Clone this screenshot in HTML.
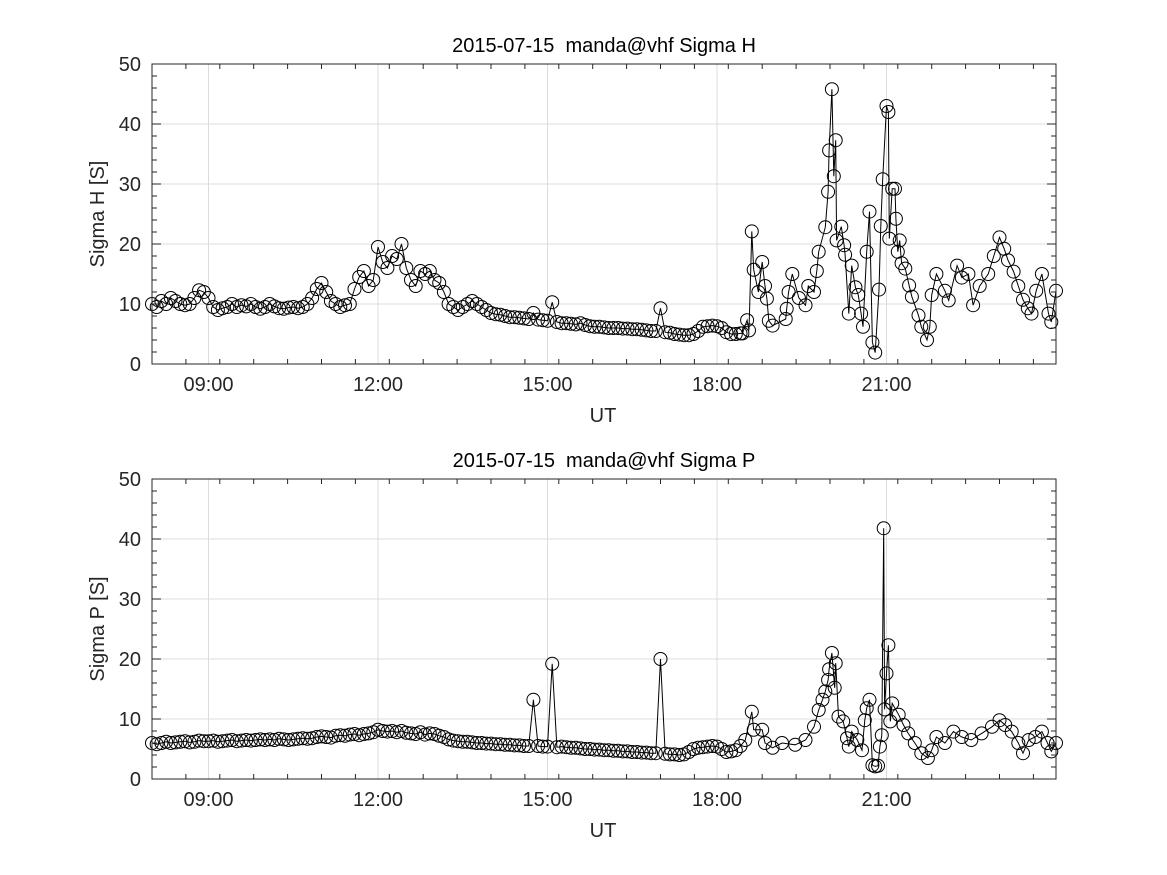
<!DOCTYPE html>
<html><head><meta charset="utf-8"><style>
html,body{margin:0;padding:0;background:#fff;}
svg{display:block;font-family:"Liberation Sans",sans-serif;}
text{white-space:pre;}
</style></head><body>
<svg id="chart" width="1167" height="875" viewBox="0 0 1167 875" xmlns="http://www.w3.org/2000/svg"></svg>
<script>
// ---- data ----
const xTickLabels = ["09:00","12:00","15:00","18:00","21:00"];
const yTickLabels = [0,10,20,30,40,50];
// Sigma H: values on a 5-minute grid from 08:00 to 18:25
const hCalmStart = "08:00";
const hCalmValues = [
10,9.5,10.5,10,11,10.5,10,9.8,10,11,12.3,12,
11,9.5,9,9.3,9.5,10,9.5,9.8,9.6,10,9.5,9.2,
9.5,10,9.6,9.3,9.2,9.4,9.5,9.3,9.5,10,11,12.5,
13.5,12,10.5,10,9.5,9.8,10,12.5,14.5,15.5,13,14,
19.5,17,16,18,17.5,20,16,14,13,15.5,15,15.5,
14,13.5,12,10,9.5,9,9.5,10,10.5,10,9.5,9,
8.5,8.3,8.2,8,7.8,7.8,7.7,7.6,7.5,8.5,7.4,7.3,
7.2,10.3,7,6.8,6.8,6.7,6.6,6.8,6.5,6.3,6.2,6.2,
6.1,6,6,6,5.9,5.9,5.8,5.8,5.7,5.6,5.5,5.5,
9.3,5.3,5.2,5,4.9,4.8,4.8,5,5.5,6.2,6.3,6.4,
6.3,6,5.3,5,5,5.1];
const hStormTimes = ["18:27","18:32","18:34","18:37","18:39","18:44","18:48","18:51","18:53","18:55","18:59","19:13","19:14","19:16","19:20","19:27","19:34","19:37","19:43","19:46","19:48","19:55","19:58","19:59","20:02","20:04","20:06","20:07","20:12","20:15","20:16","20:20","20:23","20:27","20:30","20:33","20:35","20:39","20:42","20:45","20:48","20:52","20:54","20:56","21:00","21:02","21:03","21:06","21:09","21:10","21:12","21:14","21:16","21:20","21:24","21:27","21:34","21:37","21:43","21:46","21:48","21:53","22:02","22:06","22:15","22:20","22:27","22:32","22:39","22:48","22:54","23:00","23:05","23:09","23:15","23:20","23:25","23:30","23:34","23:39","23:45","23:52","23:55","24:00"];
const hStormValues = [5.1,7.3,5.6,22.1,15.7,12,17,13,10.9,7.2,6.4,7.5,9.2,12,15,11,9.8,13,12,15.5,18.7,22.8,28.7,35.6,45.8,31.3,37.3,20.6,22.9,19.8,18.2,8.4,16.4,12.8,11.5,8.4,6.2,18.7,25.4,3.6,1.9,12.4,23,30.8,43,42,20.9,29.2,29.2,24.2,18.7,20.6,16.8,15.9,13.1,11.2,8.1,6.2,4,6.2,11.5,15,12.2,10.6,16.4,14.4,15,9.8,13,15,18,21.1,19.2,17.3,15.4,13,10.7,9.3,8.4,12.2,15,8.4,7,12.2];
// Sigma P
const pCalmStart = "08:00";
const pCalmValues = [
6,5.8,6,6.2,6,6.1,6.2,6.3,6.1,6.2,6.4,6.3,
6.3,6.4,6.2,6.3,6.4,6.5,6.3,6.4,6.5,6.4,6.5,6.6,
6.5,6.6,6.5,6.7,6.6,6.5,6.6,6.7,6.8,6.7,6.8,7,
7.1,7,6.9,7.2,7.3,7.2,7.4,7.5,7.3,7.5,7.6,7.8,
8.2,8,7.9,8,7.8,8,7.7,7.6,7.5,7.8,7.4,7.6,
7.5,7.2,7,6.6,6.4,6.3,6.2,6.2,6.1,6,6,5.9,
5.9,5.8,5.8,5.7,5.7,5.6,5.6,5.5,5.5,13.2,5.5,5.4,
5.4,19.2,5.3,5.4,5.3,5.2,5.2,5.1,5,5,4.9,4.9,
4.8,4.8,4.7,4.7,4.6,4.6,4.5,4.5,4.4,4.4,4.3,4.3,
20,4.2,4.1,4.1,4,4.1,4.5,5,5.2,5.3,5.4,5.5,
5.4,5,4.5,4.6,4.8,5.5];
const pStormTimes = ["18:30","18:37","18:39","18:48","18:51","18:59","19:09","19:23","19:34","19:43","19:48","19:52","19:55","19:58","19:59","20:02","20:05","20:06","20:09","20:14","20:18","20:20","20:23","20:29","20:34","20:37","20:39","20:42","20:45","20:48","20:51","20:53","20:55","20:57","20:58","21:00","21:02","21:04","21:06","21:13","21:18","21:23","21:30","21:37","21:44","21:48","21:53","22:02","22:11","22:20","22:30","22:41","22:52","23:00","23:06","23:13","23:20","23:25","23:31","23:38","23:45","23:51","23:55","24:00"];
const pStormValues = [6.5,11.2,8.2,8.2,6,5.2,6,5.7,6.5,8.7,11.5,13.2,14.6,16.5,18.3,21,15.2,19.3,10.4,9.6,6.8,5.4,7.9,6.5,4.8,9.8,11.8,13.2,2.3,2.1,2.2,5.4,7.3,41.8,11.6,17.6,22.3,9.6,12.6,10.7,9,7.6,6,4.3,3.5,4.8,7,6,7.9,7,6.5,7.6,8.7,9.8,9,7.9,6,4.3,6.5,7,7.9,6,4.6,6];

// ---- drawing ----
const NS = "http://www.w3.org/2000/svg";
const svg = document.getElementById("chart");
const X0 = 152, X1 = 1056, T0 = 8, T1 = 24;
function toH(s){const p=s.split(":");return +p[0]+(+p[1])/60;}
function xs(h){return X0+(h-T0)/(T1-T0)*(X1-X0);}
function mk(tag,attrs,parent){const e=document.createElementNS(NS,tag);for(const k in attrs)e.setAttribute(k,attrs[k]);(parent||svg).appendChild(e);return e;}

function panel(key, yTop, yBot, title, ylabel, calmStart, calmVals, stTimes, stVals){
  const ys = v => yBot-(v/50)*(yBot-yTop);
  const g = mk("g",{});
  
  
  xTickLabels.forEach(l=>{const x=xs(toH(l));const ln=mk("line",{x1:x,x2:x,y1:yTop,y2:yBot,stroke:"#dcdcdc","stroke-width":1},g);
    
    });
  yTickLabels.forEach(v=>{const y=ys(v);const ln=mk("line",{x1:X0,x2:X1,y1:y,y2:y,stroke:"#dcdcdc","stroke-width":1},g);
    
    });
  const pts=[];
  const c0=toH(calmStart);
  calmVals.forEach((v,i)=>pts.push([c0+i*5/60,v]));
  stTimes.forEach((t,i)=>pts.push([toH(t),stVals[i]]));
  pts.sort((a,b)=>a[0]-b[0]);
  const line=mk("polyline",{points:pts.map(p=>xs(p[0]).toFixed(1)+","+ys(p[1]).toFixed(1)).join(" "),fill:"none",stroke:"#000","stroke-width":1},g);
  
  
  pts.forEach(p=>{const c=mk("circle",{cx:xs(p[0]).toFixed(1),cy:ys(p[1]).toFixed(1),r:6.5,fill:"none",stroke:"#000","stroke-width":1},g);
    
    });
  const box=mk("rect",{x:X0,y:yTop,width:X1-X0,height:yBot-yTop,fill:"none",stroke:"#262626","stroke-width":1},g);
  
  
  for(let h=T0;h<=T1+1e-6;h+=0.6){const x=xs(h);const major=Math.abs((h-9)/3-Math.round((h-9)/3))<1e-6;const L=major?9:5;
    mk("line",{x1:x,x2:x,y1:yBot,y2:yBot-L,stroke:"#262626"},g);mk("line",{x1:x,x2:x,y1:yTop,y2:yTop+L,stroke:"#262626"},g);}
  for(let v=0;v<=50;v+=2){const y=ys(v);const L=v%10===0?9:5;
    mk("line",{x1:X0,x2:X0+L,y1:y,y2:y,stroke:"#262626"},g);mk("line",{x1:X1,x2:X1-L,y1:y,y2:y,stroke:"#262626"},g);}
  xTickLabels.forEach(l=>{const t=mk("text",{x:xs(toH(l)),y:yBot+27,"text-anchor":"middle","font-size":20,fill:"#262626"},g);t.textContent=l;
    
    });
  yTickLabels.forEach(v=>{const t=mk("text",{x:X0-11,y:ys(v)+7,"text-anchor":"end","font-size":20,fill:"#262626"},g);t.textContent=v;
    
    });
  const tt=mk("text",{x:(X0+X1)/2,y:yTop-12,"text-anchor":"middle","font-size":20,fill:"#000"},g);tt.textContent=title;
  
  
  const xl=mk("text",{x:(X0+X1)/2-1,y:yBot+58,"text-anchor":"middle","font-size":20,fill:"#262626"},g);xl.textContent="UT";
  
  
  const yc=(yTop+yBot)/2;
  const yl=mk("text",{x:104,y:yc,"text-anchor":"middle","font-size":20,fill:"#262626",transform:"rotate(-90 104 "+yc+")"},g);yl.textContent=ylabel;
  
  
}
panel("sigma-h",64,364,"2015-07-15  manda@vhf Sigma H","Sigma H [S]",hCalmStart,hCalmValues,hStormTimes,hStormValues);
panel("sigma-p",479,779,"2015-07-15  manda@vhf Sigma P","Sigma P [S]",pCalmStart,pCalmValues,pStormTimes,pStormValues);
</script>
</body></html>
